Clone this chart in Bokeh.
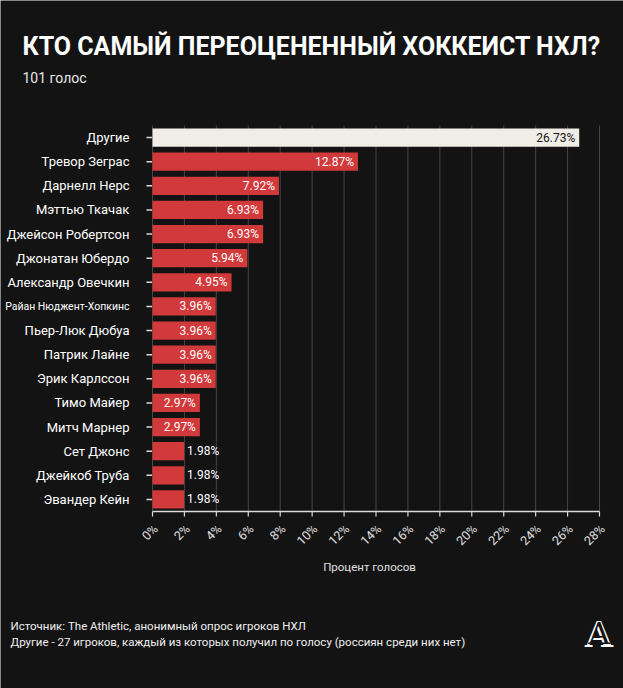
import math
from bokeh.plotting import figure
from bokeh.models import ColumnDataSource, Range1d
from bokeh.core.properties import value
from bokeh.embed import file_html
from bokeh.resources import INLINE

names = ["Другие", "Тревор Зеграс", "Дарнелл Нерс", "Мэттью Ткачак",
         "Джейсон Робертсон", "Джонатан Юбердо", "Александр Овечкин",
         "Райан Нюджент-Хопкинс", "Пьер-Люк Дюбуа", "Патрик Лайне",
         "Эрик Карлссон", "Тимо Майер", "Митч Марнер", "Сет Джонс",
         "Джейкоб Труба", "Эвандер Кейн"]
values = [26.73, 12.87, 7.92, 6.93, 6.93, 5.94, 4.95, 3.96, 3.96, 3.96,
          3.96, 2.97, 2.97, 1.98, 1.98, 1.98]
x_ticks = [0, 2, 4, 6, 8, 10, 12, 14, 16, 18, 20, 22, 24, 26, 28]
x_tick_labels = ["0%", "2%", "4%", "6%", "8%", "10%", "12%", "14%", "16%",
                 "18%", "20%", "22%", "24%", "26%", "28%"]

title_text = "КТО САМЫЙ ПЕРЕОЦЕНЕННЫЙ ХОККЕИСТ НХЛ?"
subtitle_text = "101 голос"
x_label = "Процент голосов"
note1 = "Источник: The Athletic, анонимный опрос игроков НХЛ"
note2 = "Другие - 27 игроков, каждый из которых получил по голосу (россиян среди них нет)"

BG = "#131313"
RED = "#d1393b"
LIGHT = "#efede6"
AXIS = "#d9d9d9"
GRID = "#464646"
FONT = value("Roboto")

W, H = 623, 688
# layout in pixels
X_LEFT_PX, X_RIGHT_PX = 152.0, 599.0       # pixel of x=0 and x=max tick
BAND_TOP_PX, BAND_BOT_PX = 125.0, 511.0    # plot band top/bottom
n = len(names)
kx = (X_RIGHT_PX - X_LEFT_PX) / x_ticks[-1]
ky = (BAND_BOT_PX - BAND_TOP_PX) / n
row0_px = BAND_TOP_PX + ky / 2


def px2x(px):
    return (px - X_LEFT_PX) / kx


def px2y(py):
    return (py - row0_px) / ky


p = figure(width=W, height=H, output_backend="svg", toolbar_location=None,
           x_range=Range1d(px2x(0), px2x(W)),
           y_range=Range1d(px2y(H), px2y(0)),
           min_border=0, min_border_left=0, min_border_right=0,
           min_border_top=0, min_border_bottom=0)
p.background_fill_color = BG
p.border_fill_color = BG
p.outline_line_color = None
p.axis.visible = False
p.grid.visible = False

rows = list(range(n))
band_top = px2y(BAND_TOP_PX)
band_bot = px2y(BAND_BOT_PX)

# vertical grid lines
p.segment(x0=x_ticks, x1=x_ticks, y0=[band_top] * len(x_ticks),
          y1=[band_bot] * len(x_ticks), line_color=GRID, line_width=1)

# bars
colors = [LIGHT] + [RED] * (n - 1)
src = ColumnDataSource(dict(row=rows, name=names, value=values, color=colors))
p.hbar(y="row", left=0, right="value", height=0.76, fill_color="color",
       line_color=None, source=src)

# value labels
ins_w, ins_d, outs = ([], [], []), ([], [], []), ([], [], [])
for r, nm, v in zip(rows, names, values):
    tgt = ins_d if r == 0 else (ins_w if v >= 2.5 else outs)
    tgt[0].append(r); tgt[1].append(v); tgt[2].append("%.2f%%" % v)
for d, col, align, off in [(ins_w, "#ffffff", "right", -4),
                           (ins_d, "#161616", "right", -4),
                           (outs, "#ffffff", "left", 3)]:
    p.text(x=d[1], y=d[0], text=d[2], x_offset=off, text_align=align,
           text_baseline="middle", text_color=col, text_font=FONT,
           text_font_size="12px")

# category names (long names shrink to fit like the original)
sizes = ["13px" if len(nm) <= 18 else "10.5px" for nm in names]
p.text(x=[0] * n, y=rows, text=names, x_offset=-23, text_align="right",
       text_baseline="middle", text_color="#ffffff", text_font=FONT,
       text_font_size=sizes)

# y ticks
tick_len = 6 / kx
p.segment(x0=[-tick_len] * n, x1=[-0.5 / kx] * n, y0=rows, y1=rows,
          line_color=AXIS, line_width=1.5)

# x axis line + ticks
p.segment(x0=[0], x1=[x_ticks[-1]], y0=[band_bot], y1=[band_bot],
          line_color=AXIS, line_width=1.5)
p.segment(x0=x_ticks, x1=x_ticks, y0=[band_bot] * len(x_ticks),
          y1=[band_bot + 5 / ky] * len(x_ticks), line_color=AXIS, line_width=1.2)
p.text(x=x_ticks, y=[band_bot] * len(x_ticks), text=x_tick_labels,
       angle=math.pi / 4, x_offset=3, y_offset=15, text_align="right",
       text_baseline="middle", text_color="#e0e0e0", text_font=FONT,
       text_font_size="12.5px")

p.text(x=[px2x(369)], y=[px2y(566)], text=[x_label], text_align="center",
       text_baseline="middle", text_color="#e0e0e0", text_font=FONT,
       text_font_size="11.5px")


def add_text(txt, px, py, size, style="normal", color="#ffffff",
             font=FONT, align="left"):
    p.text(x=[px2x(px)], y=[px2y(py)], text=[txt], text_align=align,
           text_baseline="middle", text_color=color, text_font=font,
           text_font_size=size, text_font_style=style)


add_text(title_text, 22, 46, "25px", style="bold")
add_text(subtitle_text, 22, 77, "14px", color="#e8e8e8")
add_text(note1, 10, 625.5, "11.5px", color="#f0f0f0")
add_text(note2, 10, 641, "11.5px", color="#f0f0f0")
# outlined logo "A": a bold white glyph with a lighter dark glyph on top
add_text("A", 598.5, 633, "36px", style="bold", font=value("DejaVu Serif"),
         align="center")
add_text("A", 598.5, 633, "30px", style="normal", font=value("DejaVu Serif"),
         align="center", color=BG)

open("out.html", "w").write(file_html(p, INLINE))
